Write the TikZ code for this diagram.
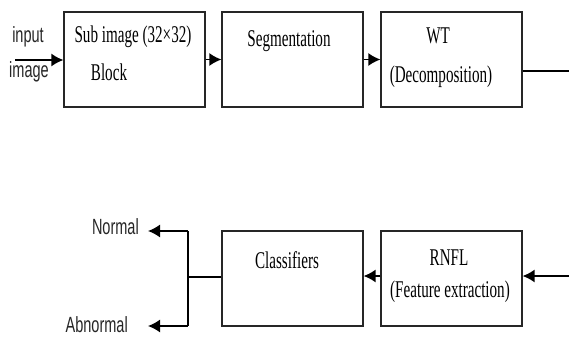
\documentclass[tikz,border=0pt]{standalone}
\usepackage{fontspec}
\usepackage{tikz}
\usetikzlibrary{arrows.meta}
\newfontfamily\boxfont[FakeStretch=0.63]{Liberation Serif}
\newfontfamily\labfont[FakeStretch=0.66]{Liberation Sans}

\begin{document}
\begin{tikzpicture}[x=1pt, y=-1pt,
    blk/.style={draw=black!85, line width=1.3pt, minimum width=141pt, minimum height=95pt, inner sep=0pt},
    btxt/.style={font=\boxfont\fontsize{24}{26}\selectfont, inner sep=0pt},
    ltxt/.style={font=\labfont\fontsize{22}{24}\selectfont, text=black!85, inner sep=0pt},
    arr/.style={line width=1.4pt, -{Latex[length=12pt, width=13pt]}},
    ln/.style={line width=1.4pt}]
    \useasboundingbox (0,0) rectangle (569,338);
    % top row
    \node[blk] (sub) at (134.5,59.5) {};
    \node[blk] (seg) at (292.5,59.5) {};
    \node[blk] (wt) at (451.5,59.5) {};
    \node[btxt] (subtxt) at (133,37) {Sub image (32×32)};
    \node[btxt] (blocktxt) at (109,72) {Block};
    \node[btxt] (segtxt) at (289,41) {Segmentation};
    \node[btxt] (wttxt) at (438,36) {WT};
    \node[btxt] (dectxt) at (441,77) {(Decomposition)};
    \node[ltxt] (inlab) at (28,37) {input};
    \node[ltxt] (imlab) at (29,72) {image};
    \coordinate (in) at (15,60);
    \coordinate (out) at (569,71);
    \draw[arr] (in) -- (in -| sub.west);
    \draw[arr] (sub) -- (seg);
    \draw[arr] (seg) -- (wt);
    \draw[ln] (wt.east |- out) -- (out);
    % bottom row
    \node[blk] (cls) at (292.5,278.5) {};
    \node[blk] (rnfl) at (451.5,278.5) {};
    \node[btxt] (clstxt) at (287,260) {Classifiers};
    \node[btxt] (rnfltxt) at (449,258) {RNFL};
    \node[btxt] (feattxt) at (450,292) {(Feature extraction)};
    \coordinate (back) at (569,276);
    \draw[arr] (back) -- (back -| rnfl.east);
    \draw[arr] (rnfl.west |- back) -- (cls.east |- back);
    \coordinate (fork) at (188,277);
    \coordinate (up) at (188,231);
    \coordinate (down) at (188,326);
    \node[ltxt, anchor=east] (normal) at (139,227) {Normal};
    \node[ltxt, anchor=east] (abnormal) at (128,325) {Abnormal};
    \draw[ln] (cls.west |- fork) -- (fork);
    \draw[ln] (up) -- (down);
    \draw[arr] (up) -- (148,231);
    \draw[arr] (down) -- (148,326);
\end{tikzpicture}
\end{document}
